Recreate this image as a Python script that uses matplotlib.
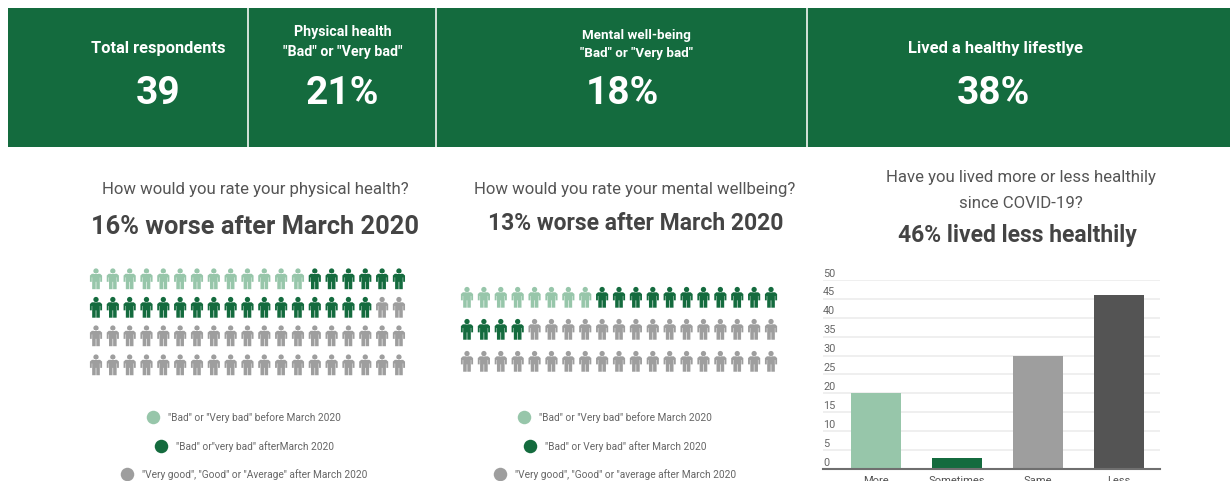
import matplotlib
matplotlib.use('Agg')
import matplotlib.pyplot as plt
from matplotlib.path import Path
from matplotlib.patches import Rectangle
from matplotlib.transforms import Affine2D

plt.rcParams['font.family'] = ['Roboto', 'DejaVu Sans']

GREEN = '#146b3e'
LIGHT = '#97c6aa'
GRAY = '#9e9e9e'
DARK = '#545454'

# headline tiles
tile_labels = ['Total respondents', 'Physical health\n"Bad" or "Very bad"',
               'Mental well-being\n"Bad" or "Very bad"', 'Lived a healthy lifestlye']
tile_values = ['39', '21%', '18%', '38%']

# pictograms: number of people per colour
physical_counts = [13, 23, 40]
mental_counts = [8, 15, 34]

physical_legend = ['"Bad" or "Very bad" before March 2020',
                   '"Bad" or"very bad" afterMarch 2020',
                   '"Very good", "Good" or "Average" after March 2020']
mental_legend = ['"Bad" or "Very bad" before March 2020',
                 '"Bad" or Very bad" after March 2020',
                 '"Very good", "Good" or "average after March 2020']

# bar chart
lifestyle_cats = ['More', 'Sometimes', 'Same', 'Less']
lifestyle_vals = [20, 3, 30, 46]
y_ticks = [0, 5, 10, 15, 20, 25, 30, 35, 40, 45, 50]

W, H = 1230, 481
# the extra 0.3 px stops the canvas height rounding down to 480
fig = plt.figure(figsize=(W / 100, (H + 0.3) / 100), dpi=100)

# whole-figure axes in pixel coordinates, y pointing down
bg = fig.add_axes([0, 0, 1, 1])
bg.set_xlim(0, W)
bg.set_ylim(H, 0)
bg.axis('off')

# green banner
bg.add_patch(Rectangle((8, 8), 1222, 139, color=GREEN, lw=0))
for x in [248, 436, 807]:
    bg.plot([x, x], [8, 147], color='#d5e3da', lw=1.4, solid_capstyle='butt')

label_pos = [(158, 48), (343, 42), (636, 44), (995, 48)]
label_sizes = [11.8, 10.2, 9.6, 11.9]
value_xs = [158, 342, 622, 993]
for lab, val, lp, fs, vx in zip(tile_labels, tile_values, label_pos, label_sizes, value_xs):
    bg.text(lp[0], lp[1], lab, color='white', fontsize=fs, fontweight='bold',
            ha='center', va='center', linespacing=1.5)
    bg.text(vx, 104, val, color='white', fontsize=28, fontweight='bold',
            ha='center', va='baseline')

# column headings
bg.text(255, 189, 'How would you rate your physical health?', color='#555555',
        fontsize=12.1, ha='center', va='center')
bg.text(255, 226.5, '16% worse after March 2020', color='#444444', fontsize=18.3,
        fontweight='bold', ha='center', va='center')
bg.text(635, 189, 'How would you rate your mental wellbeing?', color='#555555',
        fontsize=12.1, ha='center', va='center')
bg.text(636, 223.5, '13% worse after March 2020', color='#444444', fontsize=16.5,
        fontweight='bold', ha='center', va='center')
bg.text(1021, 177, 'Have you lived more or less healthily', color='#555555',
        fontsize=12.1, ha='center', va='center')
bg.text(1021, 203, 'since COVID-19?', color='#555555',
        fontsize=12.1, ha='center', va='center')
bg.text(1017, 235.5, '46% lived less healthily', color='#444444', fontsize=16.5,
        fontweight='bold', ha='center', va='center')

# person icon: head plus body outline
body = [(-4.2, 5.2), (4.2, 5.2), (6.2, 3.4), (6.2, -3), (4.3, -3), (4.3, 1.5), (3.9, 1.5),
        (3.9, -10.5), (0.3, -10.5), (0.3, -3), (-0.3, -3), (-0.3, -10.5),
        (-3.9, -10.5), (-3.9, 1.5), (-4.3, 1.5), (-4.3, -3), (-6.2, -3), (-6.2, 3.4),
        (-4.2, 5.2)]
head = Path.unit_circle().transformed(Affine2D().scale(2.7).translate(0, 8))
person = Path.make_compound_path(head, Path(body, closed=True))


def pictogram(counts, x0, step, row_ys):
    colors = [LIGHT] * counts[0] + [GREEN] * counts[1] + [GRAY] * counts[2]
    n_cols = 19
    xs = [x0 + step * (i % n_cols) for i in range(len(colors))]
    ys = [row_ys[i // n_cols] for i in range(len(colors))]
    # marker size: icon is 21 px tall
    bg.scatter(xs, ys, s=(21 * 0.72) ** 2, marker=person, c=colors, linewidths=0)


pictogram(physical_counts, 96, 16.83, [279, 307.5, 336, 365])
pictogram(mental_counts, 467, 16.89, [297.5, 329.5, 361.5])


def legend(labels, dot_xs, ys):
    for lab, x, y, c in zip(labels, dot_xs, ys, [LIGHT, GREEN, GRAY]):
        bg.scatter([x], [y], s=(13.5 * 0.72) ** 2, color=c, linewidths=0)
        bg.text(x + 15, y, lab, color='#666666', fontsize=7.3, ha='left', va='center')


legend(physical_legend, [153, 161, 127], [417, 446, 474])
legend(mental_legend, [524, 530, 500], [417, 446, 474])

# bar chart axes, top at y=280 and baseline at y=469
ax = fig.add_axes([823 / W, 1 - 469 / H, (1160 - 823) / W, (469 - 280) / H])
ax.patch.set_alpha(0)
bar_colors = [LIGHT, GREEN, GRAY, DARK]
ax.bar(range(len(lifestyle_vals)), lifestyle_vals, width=0.617, color=bar_colors,
       zorder=3)
ax.set_xlim(-0.654, 3.506)
ax.set_ylim(0, 50)
ax.set_yticks(y_ticks)
ax.set_yticklabels([])
ax.tick_params(axis='y', length=0)
ax.grid(True, axis='y', color='#ebebeb', lw=1.1, zorder=0)
for t in y_ticks:
    ax.annotate(str(t), (0, t), xycoords=ax.get_yaxis_transform(),
                xytext=(0, 1.2), textcoords='offset points',
                color='#666666', fontsize=7.8, ha='left', va='bottom')
ax.set_xticks(range(len(lifestyle_cats)))
ax.set_xticklabels(lifestyle_cats, color='#555555', fontsize=8)
ax.tick_params(axis='x', length=0, pad=4.5)
for s in ['top', 'left', 'right']:
    ax.spines[s].set_visible(False)
ax.spines['bottom'].set_color('#6f6f6f')
ax.spines['bottom'].set_linewidth(1.5)
ax.spines['bottom'].set_zorder(4)

fig.savefig('out.png', dpi=100)
